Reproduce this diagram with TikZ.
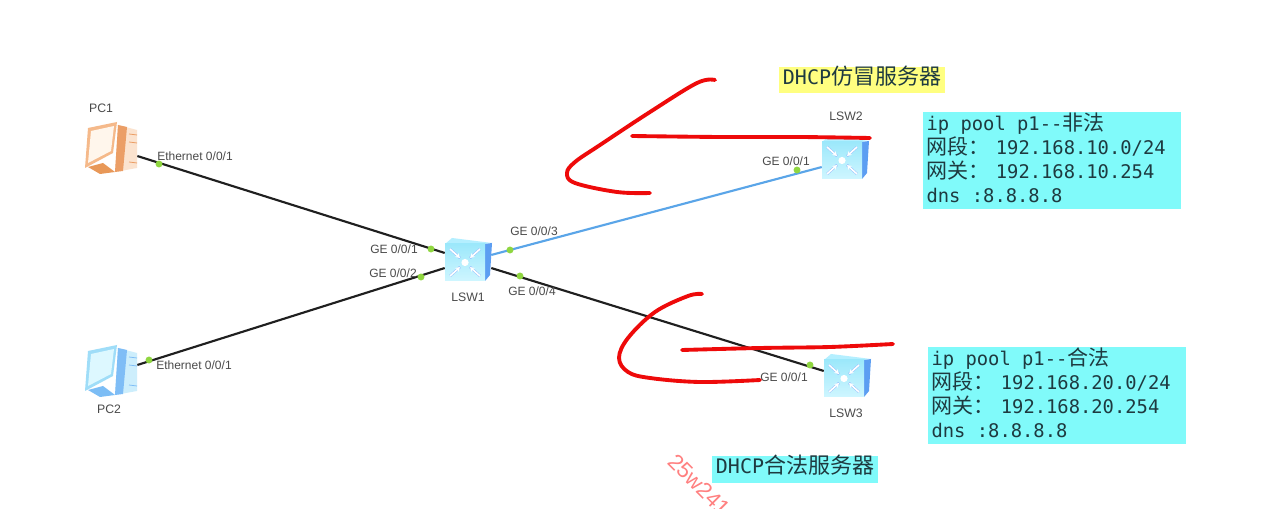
\documentclass[tikz,border=0pt]{standalone}
\usepackage{fontspec}
\usetikzlibrary{arrows.meta}
\setmainfont{Liberation Sans}
\newfontfamily\boxfont{DejaVu Sans Mono}
\newfontfamily\cjkfont{Noto Sans CJK SC}
\newcommand{\zhbox}[1]{{\cjkfont\fontsize{15.75}{18}\selectfont #1}}
\newcommand{\zhtag}[1]{{\cjkfont\fontsize{16.5}{20}\selectfont #1}}
\newcommand{\msp}{\hspace{0.602em}}
\definecolor{portgreen}{HTML}{8FD63F}
\definecolor{linkblue}{HTML}{5AA5E8}
\definecolor{scribble}{HTML}{EE0A0A}
\definecolor{infocyan}{HTML}{80FAFA}
\definecolor{tagyellow}{HTML}{FFFF80}
\definecolor{labelgrey}{HTML}{4A4A4A}
\definecolor{inktext}{HTML}{1E3A40}
\definecolor{swlight}{HTML}{9CE8FB}
\definecolor{swpale}{HTML}{CFF6FF}
\definecolor{swside}{HTML}{5C9EF2}
\definecolor{swtop}{HTML}{B4EFFF}
\definecolor{pcObase}{HTML}{E89858}
\definecolor{pcOframe}{HTML}{F5B98A}
\definecolor{pcOscreen}{HTML}{FFF6EC}
\definecolor{pcOtower}{HTML}{FBE3CF}
\definecolor{pcOside}{HTML}{EB9E66}
\definecolor{pcBbase}{HTML}{7CBDF5}
\definecolor{pcBframe}{HTML}{9FDDF8}
\definecolor{pcBscreen}{HTML}{DDF8FF}
\definecolor{pcBtower}{HTML}{CDEEFC}
\definecolor{pcBside}{HTML}{7FBDF6}
\tikzset{
  link/.style={line width=1.6pt,black!88},
  bluelink/.style={line width=1.6pt,linkblue},
  port/.style={circle,fill=portgreen,inner sep=0pt,minimum size=5.2pt},
  ifl/.style={font=\fontsize{9}{10}\selectfont,text=labelgrey,inner sep=0pt},
  devl/.style={font=\fontsize{9.2}{10}\selectfont,text=labelgrey,inner sep=0pt},
  iconbox/.style={rectangle,inner sep=0pt,minimum width=#1},
  infobox/.style={fill=infocyan,anchor=north west,minimum width=193.5pt,minimum height=72.75pt,
    text width=188.5pt,inner xsep=2.5pt,inner ysep=0pt,align=left,text=inktext,
    text height=13.5pt,text depth=59.25pt,
    font=\boxfont\fontsize{14.1}{18}\selectfont},
  tagbox/.style={inner sep=0pt,minimum width=124.5pt,minimum height=20pt,text=inktext,
    text height=13pt,text depth=6.4pt,
    font=\boxfont\fontsize{15}{20}\selectfont},
  redpen/.style={scribble,line width=2.9pt,line cap=round,line join=round},
  swsym/.style={white,line width=1.2pt,-{Stealth[length=3.4pt,width=3.8pt]}},
  swsymb/.style={swlight!70!blue!70,line width=1.9pt},
  pics/switchicon/.style={code={
    \fill[swtop] (0,0) -- (7,-6) -- (47,-1) -- (40,0) -- cycle;
    \fill[swside] (40,0) -- (47,-1) -- (45,31) -- (40,37) -- cycle;
    \shade[top color=swlight,bottom color=swpale] (0,0) rectangle (40,37);
    \foreach \a/\b/\c/\d in {5/5/15/14, 35/5/25/14, 5/32/15/23, 35/32/25/23}{
      \draw[swsymb] (\a,\b) -- (\c,\d);
      \draw[swsym] (\a,\b) -- (\c,\d);
    }
    \fill[white] (20,18.5) circle (3.6);
  }},
  pics/pcicon/.style n args={5}{code={
    \fill[#1] (3,45) -- (18,41) -- (30,50) -- (15,52) -- cycle;
    \fill[#4] (33,3) -- (52,8) -- (52,46) -- (30,50) -- cycle;
    \fill[#5] (33,3) -- (42,5) -- (38,49) -- (30,50) -- cycle;
    \fill[#2] (3,6) -- (32,0) -- (28,31) -- (0,46) -- cycle;
    \fill[#3] (6,9) -- (29,4) -- (26,29) -- (3,41) -- cycle;
    \foreach \yy in {12,20,40}{\draw[#5,line width=.6pt] (44,\yy) -- (52,\yy+1);}
  }},
}
\begin{document}
\begin{tikzpicture}[x=0.75pt,y=-0.75pt]
\useasboundingbox (0,0) rectangle (1278,509);
\fill[white] (0,0) rectangle (1278,509);
\clip (0,0) rectangle (1278,509);

% device anchors
\node[iconbox=39pt,minimum height=39pt] (pc1) at (111,148) {};
\node[iconbox=39pt,minimum height=39pt] (pc2) at (111,371) {};
\node[iconbox=34.5pt,minimum height=32.25pt] (lsw1) at (468,259.5) {};
\node[iconbox=34.5pt,minimum height=32.25pt] (lsw2) at (845,156.5) {};
\node[iconbox=34.5pt,minimum height=33.75pt] (lsw3) at (847,375.5) {};

% connectors
\draw[link] ([yshift=-6pt]pc1.east) -- ([yshift=4.9pt]lsw1.west);
\draw[link] ([yshift=4.5pt]pc2.east) -- ([yshift=-6.4pt]lsw1.west);
\draw[bluelink] ([yshift=3.4pt]lsw1.east) -- ([yshift=-7.9pt]lsw2.west);
\draw[link] ([yshift=-6.4pt]lsw1.east) -- ([yshift=3.4pt]lsw3.west);

% icons
\pic at (85,122) {pcicon={pcObase}{pcOframe}{pcOscreen}{pcOtower}{pcOside}};
\pic at (85,345) {pcicon={pcBbase}{pcBframe}{pcBscreen}{pcBtower}{pcBside}};
\pic at (445,244) {switchicon};
\pic at (822,142) {switchicon};
\pic at (824,360) {switchicon};

% ports
\node[port] (p1) at (159,164) {};
\node[port] (p2) at (149,360) {};
\node[port] (p3) at (431,249) {};
\node[port] (p4) at (421,277) {};
\node[port] (p5) at (510,250) {};
\node[port] (p6) at (520,276) {};
\node[port] (p7) at (797,170) {};
\node[port] (p8) at (810,365) {};

% interface labels
\node[ifl] (l1) at (195,156) {Ethernet 0/0/1};
\node[ifl] (l2) at (194,365) {Ethernet 0/0/1};
\node[ifl] (l3) at (394,249) {GE 0/0/1};
\node[ifl] (l4) at (393,273) {GE 0/0/2};
\node[ifl] (l5) at (534,231) {GE 0/0/3};
\node[ifl] (l6) at (532,291) {GE 0/0/4};
\node[ifl] (l7) at (786,161) {GE 0/0/1};
\node[ifl] (l8) at (784,377) {GE 0/0/1};

% device labels
\node[devl] (n1) at (101,108) {PC1};
\node[devl] (n2) at (109,409) {PC2};
\node[devl] (n3) at (468,297) {LSW1};
\node[devl] (n4) at (846,116) {LSW2};
\node[devl] (n5) at (846,413) {LSW3};

% red pen marks
\draw[redpen] plot[smooth,tension=.6] coordinates {(715,80) (697,83) (650,112) (600,145) (575,162) (567,173) (575,183) (617,192) (650,193)};
\draw[redpen] plot[smooth] coordinates {(632,136) (720,137) (800,137) (870,138)};
\draw[redpen] plot[smooth,tension=.6] coordinates {(702,294) (688,296) (655,312) (628,338) (619,358) (628,372) (650,378) (700,382) (760,380)};
\draw[redpen] plot[smooth] coordinates {(682,350) (760,348) (830,347) (893,344)};

% info boxes
\node[infobox] (b1) at (923,112) {ip\msp pool\msp p1--\zhbox{非法}\\\zhbox{网段：} 192.168.10.0/24\\\zhbox{网关：} 192.168.10.254\\dns\msp:8.8.8.8};
\node[infobox] (b2) at (928,347) {ip\msp pool\msp p1--\zhbox{合法}\\\zhbox{网段：} 192.168.20.0/24\\\zhbox{网关：} 192.168.20.254\\dns\msp:8.8.8.8};
\node[tagbox,fill=tagyellow] (t1) at (862,80) {DHCP\zhtag{仿冒服务器}};
\node[tagbox,fill=infocyan] (t2) at (795,469.5) {DHCP\zhtag{合法服务器}};

% watermark
\node[text=red!50!white,rotate=-45,font=\fontsize{16.5}{17}\selectfont,inner sep=0pt] (wm) at (699,485) {25w241};
\end{tikzpicture}
\end{document}
